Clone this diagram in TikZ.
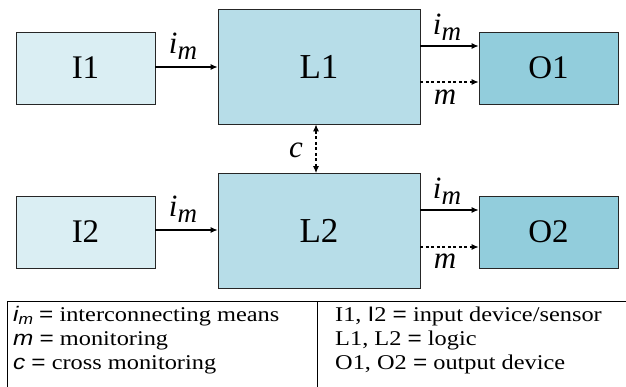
\documentclass[tikz,border=0pt]{standalone}
\usepackage{fontspec}
\setmainfont{Liberation Serif}
\newfontfamily\timesf{Liberation Serif}
\newfontfamily\arialf{Liberation Sans}
\newfontfamily\tabserif[FakeStretch=1.16]{Liberation Serif}
\newfontfamily\tabsans[FakeStretch=1.16]{Liberation Sans}
\usetikzlibrary{arrows.meta}
\definecolor{cI}{HTML}{DAEEF3}
\definecolor{cL}{HTML}{B7DDE8}
\definecolor{cO}{HTML}{92CDDC}
\newcommand{\imsym}{i\raisebox{-6pt}{\fontsize{27}{27}\selectfont m}}
\newcommand{\tabim}{{\tabsans\itshape i\raisebox{-3.5pt}{\fontsize{15}{15}\selectfont m}}}
\begin{document}
\begin{tikzpicture}[x=1pt,y=-1pt,
  box/.style={draw=black!85, line width=0.8pt, inner sep=0pt, font=\timesf\fontsize{33}{33}\selectfont},
  smallbox/.style={box, minimum width=139pt, minimum height=72pt},
  bigbox/.style={box, minimum width=202pt, minimum height=115pt, font=\timesf\fontsize{35}{35}\selectfont},
  arr/.style={line width=1.1pt, -{Latex[length=7pt,width=6pt]}},
  darr/.style={arr, dash pattern=on 3pt off 2.5pt},
  lab/.style={inner sep=0pt, font=\timesf\fontsize{31}{31}\selectfont\itshape},
  tabtxt/.style={inner sep=0pt, anchor=base west, font=\tabserif\fontsize{21}{21}\selectfont}]
\useasboundingbox (0,0) rectangle (626,387);
% boxes
\node[smallbox, fill=cI] (I1) at (85.5,68) {I1};
\node[bigbox, fill=cL] (L1) at (319,66.5) {L1};
\node[smallbox, fill=cO] (O1) at (548.5,68) {O1};
\node[smallbox, fill=cI] (I2) at (85.5,232) {I2};
\node[bigbox, fill=cL] (L2) at (319,231) {L2};
\node[smallbox, fill=cO] (O2) at (548.5,232) {O2};
% connectors
\draw[arr] (I1.east |- 0,67) -- (L1.west |- 0,67);
\draw[arr] (L1.east |- 0,46) -- (O1.west |- 0,46);
\draw[darr] (L1.east |- 0,82) -- (O1.west |- 0,82);
\draw[arr] (I2.east |- 0,230) -- (L2.west |- 0,230);
\draw[arr] (L2.east |- 0,210) -- (O2.west |- 0,210);
\draw[darr] (L2.east |- 0,247) -- (O2.west |- 0,247);
\draw[darr, {Latex[length=7pt,width=6pt]}-{Latex[length=7pt,width=6pt]}] (L1.south -| 316,0) -- (L2.north -| 316,0);
% labels
\node[lab, anchor=south] (la1) at (183,60) {\imsym};
\node[lab, anchor=south] (la2) at (447,41) {\imsym};
\node[lab, anchor=north] (la3) at (445,90) {m};
\node[lab, anchor=south] (la4) at (183,223) {\imsym};
\node[lab, anchor=south] (la5) at (447,205) {\imsym};
\node[lab, anchor=north] (la6) at (445,254) {m};
\node[lab] (la7) at (296,150) {c};
% table
\draw[line width=1pt] (7,387) -- (7,301) -- (626,301);
\draw[line width=1pt] (317,301) -- (317,387);
\node[tabtxt] (t1) at (13,321) {\tabim\ {\tabsans =} interconnecting means};
\node[tabtxt] (t2) at (13,345) {{\tabsans\itshape m} {\tabsans =} monitoring};
\node[tabtxt] (t3) at (13,369) {{\tabsans\itshape c} {\tabsans =} cross monitoring};
\node[tabtxt] (t4) at (335,321) {I1, {\tabsans I}2 {\tabsans =} input device/sensor};
\node[tabtxt] (t5) at (335,345) {L1, L2 {\tabsans =} logic};
\node[tabtxt] (t6) at (335,369) {O1, O2 {\tabsans =} output device};
\end{tikzpicture}
\end{document}
